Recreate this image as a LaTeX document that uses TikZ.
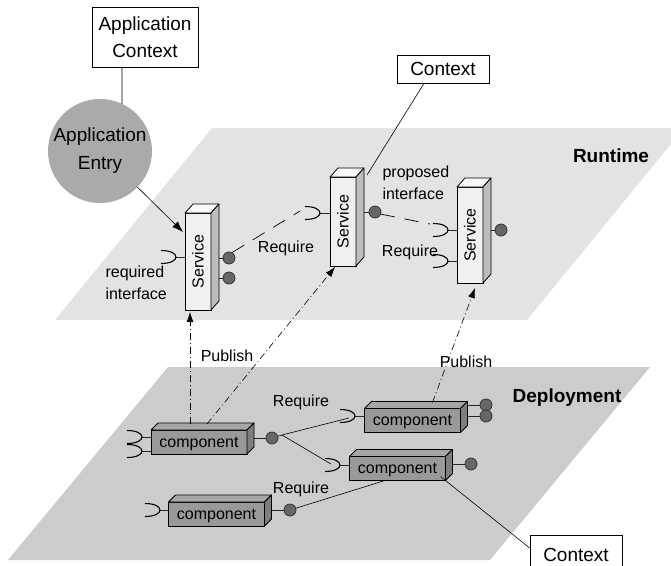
\documentclass[tikz,border=0pt]{standalone}
\usepackage{fontspec}
\setmainfont{Liberation Sans}
\usetikzlibrary{arrows.meta,calc}
\definecolor{runtimegray}{HTML}{E3E3E3}
\definecolor{deploygray}{HTML}{CCCCCC}
\definecolor{svcfront}{HTML}{F0F0F0}
\definecolor{svctop}{HTML}{F8F8F8}
\definecolor{svcside}{HTML}{BDBDBD}
\definecolor{compfront}{HTML}{999999}
\definecolor{comptop}{HTML}{A6A6A6}
\definecolor{compside}{HTML}{7E7E7E}
\definecolor{entrygray}{HTML}{AAAAAA}
\definecolor{lolligray}{HTML}{666666}
\newcommand\boxfaces[5]{%
  \filldraw[fill=#4, line width=0.8pt, line join=round] (#1.north west) -- ++(#2,-#3) -- ($(#1.north east)+(#2,-#3)$) -- (#1.north east) -- cycle;
  \filldraw[fill=#5, line width=0.8pt, line join=round] (#1.north east) -- ++(#2,-#3) -- ($(#1.south east)+(#2,-#3)$) -- (#1.south east) -- cycle;}
\tikzset{
  smalltext/.style={font=\fontsize{16}{19}\selectfont},
  bigtext/.style={font=\fontsize{19}{27}\selectfont},
  svc/.style={draw=black, line width=0.8pt, fill=svcfront, minimum width=26pt, inner sep=0pt, outer sep=0pt, smalltext},
  comp/.style={draw=black, line width=0.8pt, fill=compfront, minimum width=96pt, minimum height=24pt, inner sep=0pt, outer sep=0pt, smalltext, text depth=0pt},
  lolli/.style={circle, draw=black!80, fill=lolligray, minimum size=12pt, inner sep=0pt, line width=0.8pt},
  stick/.style={line width=0.8pt, draw=black!85},
  ctxbox/.style={draw=black, line width=0.8pt, fill=white, inner sep=0pt, bigtext},
  thin/.style={line width=0.6pt},
  reqdash/.style={line width=0.7pt, dash pattern=on 14pt off 10pt},
  publish/.style={line width=0.6pt, dash pattern=on 7pt off 3pt on 1pt off 3pt, -{Latex[length=10pt,width=7pt]}},
  sockt/.pic={\draw[line width=1.1pt] (-15,-6.5) .. controls (5,-6.5) and (5,6.5) .. (-15,6.5);}
}
\begin{document}
\begin{tikzpicture}[x=1pt,y=-1pt]
\useasboundingbox (0,0) rectangle (671,565);
\clip (0,0) rectangle (671,565);
% planes
\fill[runtimegray] (212,128) -- (684,128) -- (527,320) -- (55,320) -- cycle;
\fill[deploygray] (168,367) -- (650,367) -- (490,560) -- (8,560) -- cycle;
\node[bigtext, anchor=base] (rt) at (611,162) {\textbf{Runtime}};
\node[bigtext, anchor=base] (dp) at (567,402) {\textbf{Deployment}};

% services
\node[svc, minimum height=97pt] (s1) at (198,261.5) {\rotatebox{90}{Service}};
\boxfaces{s1}{8}{9}{svctop}{svcside}
\node[svc, minimum height=89pt] (s2) at (343,221.5) {\rotatebox{90}{Service}};
\boxfaces{s2}{8}{9}{svctop}{svcside}
\node[svc, minimum height=96pt] (s3) at (470,235) {\rotatebox{90}{Service}};
\boxfaces{s3}{8}{9}{svctop}{svcside}

% components
\node[comp] (c1) at (199,442) {component};
\boxfaces{c1}{7}{7}{comptop}{compside}
\node[comp] (c2) at (412.5,420.5) {component};
\boxfaces{c2}{7}{7}{comptop}{compside}
\node[comp] (c3) at (397.5,468.5) {component};
\boxfaces{c3}{7}{7}{comptop}{compside}
\node[comp] (c4) at (216.5,514) {component};
\boxfaces{c4}{7}{7}{comptop}{compside}

% lollipops (provided interfaces)
\node[lolli] (s1p1) at (229,258) {};
\node[lolli] (s1p2) at (229,278) {};
\node[lolli] (s2p) at (375,212) {};
\node[lolli] (s3p) at (501,230) {};
\node[lolli] (c1p) at (272,438) {};
\node[lolli] (c2p1) at (486,405) {};
\node[lolli] (c2p2) at (486,416) {};
\node[lolli] (c3p) at (471,464) {};
\node[lolli] (c4p) at (290,510) {};
\draw[stick] (s1p1) -- ($(s1p1 -| s1.east)+(8,0)$);
\draw[stick] (s1p2) -- ($(s1p2 -| s1.east)+(8,0)$);
\draw[stick] (s2p) -- ($(s2p -| s2.east)+(8,0)$);
\draw[stick] (s3p) -- ($(s3p -| s3.east)+(8,0)$);
\draw[stick] (c1p) -- ($(c1p -| c1.east)+(7,0)$);
\draw[stick] (c2p1) -- ($(c2p1 -| c2.east)+(7,0)$);
\draw[stick] (c2p2) -- ($(c2p2 -| c2.east)+(7,0)$);
\draw[stick] (c3p) -- ($(c3p -| c3.east)+(7,0)$);
\draw[stick] (c4p) -- ($(c4p -| c4.east)+(7,0)$);

% sockets (required interfaces)
\coordinate (s1k) at (176,257);
\coordinate (s2k) at (320,213);
\coordinate (s3k1) at (448,230);
\coordinate (s3k2) at (448,261);
\coordinate (c1k1) at (142,437);
\coordinate (c1k2) at (142,451);
\coordinate (c2k) at (355,416);
\coordinate (c3k) at (340,465);
\coordinate (c4k) at (160,510);
\draw[stick] (s1k) -- (s1k -| s1.west);
\draw[stick] (s2k) -- (s2k -| s2.west);
\draw[stick] (s3k1) -- (s3k1 -| s3.west);
\draw[stick] (s3k2) -- (s3k2 -| s3.west);
\draw[stick] (c1k1) -- (c1k1 -| c1.west);
\draw[stick] (c1k2) -- (c1k2 -| c1.west);
\draw[stick] (c2k) -- (c2k -| c2.west);
\draw[stick] (c3k) -- (c3k -| c3.west);
\draw[stick] (c4k) -- (c4k -| c4.west);
\foreach \k in {s1k,s2k,s3k1,s3k2,c1k1,c1k2,c2k,c3k,c4k} \pic at (\k) {sockt};

% require (runtime)
\draw[reqdash] (s1p1.60) -- ($(s2k)+(-20,-2)$);
\draw[reqdash] (s2p.-20) -- ($(s3k1)+(-18,-6)$);
\node[smalltext, anchor=base] (lreq1) at (286,252) {Require};
\node[smalltext, anchor=base] (lreq2) at (410,256) {Require};
\node[smalltext, anchor=base west] (lri1) at (102,277) {required};
\node[smalltext, anchor=base west] (lri2) at (102,299) {interface};
\node[smalltext, anchor=base west] (lpi1) at (379,177) {proposed};
\node[smalltext, anchor=base west] (lpi2) at (379,199) {interface};

% require (deployment)
\coordinate (fork) at (282,435);
\draw[thin] (c1p) -- (fork);
\draw[thin] (fork) -- ($(c2k)+(-6,2)$);
\draw[thin] (fork) -- ($(c3k)+(-9,-1)$);
\draw[thin] (c4p) -- ([xshift=-12.5pt]c3.south);
\node[smalltext, anchor=base] (lreq3) at (301,406) {Require};
\node[smalltext, anchor=base] (lreq4) at (301,493) {Require};

% publish
\draw[publish] ([shift={(-9,-6)}]c1.north) -- ([shift={(-8,2)}]s1.south);
\draw[publish] ([shift={(8,-6)}]c1.north) -- ([shift={(-8,1)}]s2.south);
\draw[publish] ([shift={(20,-6)}]c2.north) -- ([shift={(5,5)}]s3.south);
\node[smalltext, anchor=base] (lpub1) at (227,361) {Publish};
\node[smalltext, anchor=base] (lpub2) at (466,367) {Publish};

% application context / entry
\node[ctxbox, minimum width=106pt, minimum height=60pt, align=center] (appctx) at (145,37) {Application\\Context};
\node[circle, fill=entrygray, minimum size=104pt, inner sep=0pt, outer sep=0pt, align=center, bigtext] (entry) at (100,151) {Application\\[1pt]Entry};
\draw[thin] ([xshift=-23pt]appctx.south) -- (entry.65);
\draw[thin, -{Latex[length=11pt,width=8pt]}] (entry.-44) -- ([shift={(-2,19)}]s1.north west);

% contexts
\node[ctxbox, minimum width=92pt, minimum height=28pt] (ctx1) at (443,69) {Context};
\draw[thin] ([xshift=-19pt]ctx1.south) -- ([shift={(11,-2)}]s2.north east);
\node[ctxbox, minimum width=92pt, minimum height=40pt] (ctx2) at (576,555) {Context};
\draw[thin] ([shift={(-5,-4)}]c3.south east) -- ([yshift=7pt]ctx2.west);
\end{tikzpicture}
\end{document}
